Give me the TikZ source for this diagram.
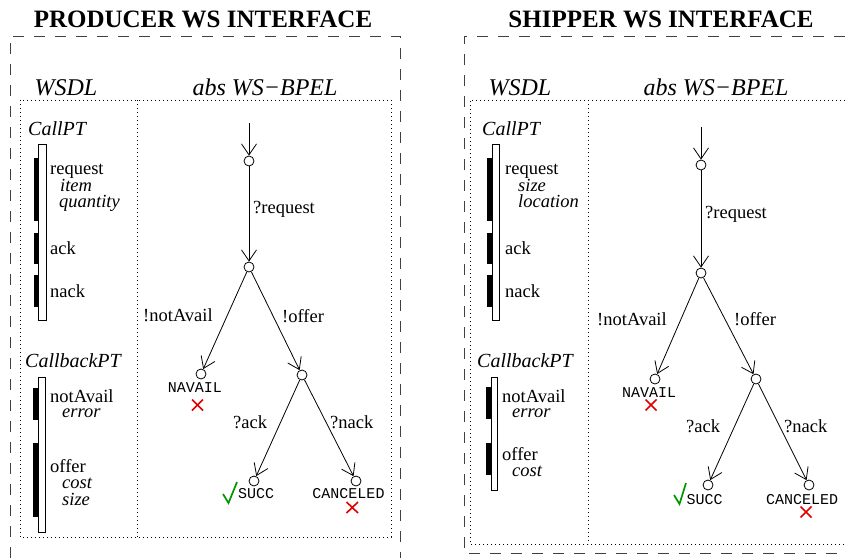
\documentclass[tikz,border=0pt]{standalone}
\usepackage{fontspec}
\setmainfont{Liberation Serif}
\setmonofont{Liberation Mono}
\usetikzlibrary{arrows.meta}
\definecolor{xred}{RGB}{225,0,0}
\definecolor{ckgreen}{RGB}{0,150,0}
\tikzset{
  outerbox/.style={draw=black!75, line width=1pt, dash pattern=on 11pt off 10pt},
  innerbox/.style={draw=black, line width=0.8pt, dash pattern=on 0.8pt off 3.2pt},
  title/.style={font=\fontsize{25}{30}\selectfont\bfseries, anchor=base, inner sep=0},
  head/.style={font=\fontsize{24}{28}\selectfont\itshape, anchor=base, inner sep=0},
  ptname/.style={font=\fontsize{20}{24}\selectfont\itshape, anchor=base west, inner sep=0},
  op/.style={font=\fontsize{18.5}{22}\selectfont, anchor=base west, inner sep=0},
  arg/.style={font=\fontsize{18.5}{22}\selectfont\itshape, anchor=base west, inner sep=0},
  lbl/.style={font=\fontsize{18.5}{22}\selectfont, anchor=base west, inner sep=0},
  fin/.style={font=\fontsize{15}{18}\selectfont\ttfamily, anchor=base, inner sep=0},
  st/.style={circle, draw, line width=0.8pt, minimum size=10pt, inner sep=0},
  tr/.style={line width=0.8pt, -{Straight Barb[length=11pt,width=15pt,line width=0.8pt]}},
  port/.style={draw, line width=0.8pt, fill=white},
  msgbar/.style={fill=black},
  xmark/.style={draw=xred, line width=1.6pt},
  ckmark/.style={draw=ckgreen, line width=1.7pt, line join=miter},
}
\begin{document}
\begin{tikzpicture}[x=1pt,y=-1pt]
\useasboundingbox (0,0) rectangle (845,557);
\clip (0,0) rectangle (845,557);

% ---------------- frames
\draw[outerbox] (10,600) -- (10,36) -- (400,36) -- (400,600);
\draw[outerbox] (900,553) -- (464,553) -- (464,36) -- (900,36);
\draw[innerbox] (20,100) rectangle (391,537);
\draw[innerbox] (137,100) -- (137,537);
\draw[innerbox] (900,544) -- (470,544) -- (470,100) -- (900,100);
\draw[innerbox] (588,100) -- (588,544);

% ---------------- titles
\node[title] (tp) at (203,27) {PRODUCER WS INTERFACE};
\node[title] (ts) at (661,27) {SHIPPER WS INTERFACE};
\node[head] (hpw) at (66,95) {WSDL};
\node[head] (hpb) at (265,95) {abs WS−BPEL};
\node[head] (hsw) at (520,95) {WSDL};
\node[head] (hsb) at (716,95) {abs WS−BPEL};

% ---------------- producer WSDL
\node[ptname] (pcall) at (28,135) {CallPT};
\draw[port] (38,144) rectangle (46,320);
\fill[msgbar] (33.5,158) rectangle (38,221);
\fill[msgbar] (33.5,233) rectangle (38,264);
\fill[msgbar] (33.5,275) rectangle (38,307);
\node[op] (preq) at (50,174) {request};
\node[arg] (pitem) at (60,191) {item};
\node[arg] (pqty) at (59,207) {quantity};
\node[op] (pack) at (50,254) {ack};
\node[op] (pnack) at (50,297) {nack};

\node[ptname] (pcb) at (25,367) {CallbackPT};
\draw[port] (38,377) rectangle (45.5,532);
\fill[msgbar] (32.5,388) rectangle (38,420);
\fill[msgbar] (32.5,443) rectangle (38,517);
\node[op] (pna) at (50,402) {notAvail};
\node[arg] (perr) at (62,417) {error};
\node[op] (poff) at (50,472) {offer};
\node[arg] (pcost) at (62,488) {cost};
\node[arg] (psize) at (62,505) {size};

% ---------------- shipper WSDL
\node[ptname] (scall) at (482,135) {CallPT};
\draw[port] (492,144) rectangle (499,320);
\fill[msgbar] (486.5,158) rectangle (492,221);
\fill[msgbar] (486.5,233) rectangle (492,264);
\fill[msgbar] (486.5,275) rectangle (492,307);
\node[op] (sreq) at (505,174) {request};
\node[arg] (ssize) at (518,191) {size};
\node[arg] (sloc) at (518,207) {location};
\node[op] (sack) at (505,254) {ack};
\node[op] (snack) at (505,297) {nack};

\node[ptname] (scb) at (477,367) {CallbackPT};
\draw[port] (491,377) rectangle (497.5,490);
\fill[msgbar] (485.5,387) rectangle (491,419);
\fill[msgbar] (485.5,443) rectangle (491,475);
\node[op] (sna) at (502,402) {notAvail};
\node[arg] (serr) at (512,417) {error};
\node[op] (soff) at (502,460) {offer};
\node[arg] (scost) at (512,476) {cost};

% ---------------- producer tree
\coordinate (p0) at (249,123);
\node[st] (p1) at (249,161) {};
\node[st] (p2) at (249,267) {};
\node[st] (p3) at (201,374) {};
\node[st] (p4) at (302,375) {};
\node[st] (p5) at (254,481) {};
\node[st] (p6) at (356,481) {};
\draw[tr] (p0) -- (p1);
\draw[tr] (p1) -- (p2);
\draw[tr] (p2) -- (p3);
\draw[tr] (p2) -- (p4);
\draw[tr] (p4) -- (p5);
\draw[tr] (p4) -- (p6);
\node[lbl] (pl1) at (253,213) {?request};
\node[lbl] (pl2) at (143,321) {!notAvail};
\node[lbl] (pl3) at (282,322) {!offer};
\node[lbl] (pl4) at (233,428) {?ack};
\node[lbl] (pl5) at (330,428) {?nack};
\node[fin] (pf1) at (195,392) {NAVAIL};
\node[fin] (pf2) at (256,498) {SUCC};
\node[fin] (pf3) at (348.5,498) {CANCELED};
\draw[xmark] (192,399.5) -- (203,410.5) (192,410.5) -- (203,399.5);
\draw[xmark] (346.5,502) -- (358,513) (346.5,513) -- (358,502);
\draw[ckmark] (223,494) -- (228.5,503) -- (237,482);

% ---------------- shipper tree
\coordinate (s0) at (701,127);
\node[st] (s1) at (701,165) {};
\node[st] (s2) at (701,273) {};
\node[st] (s3) at (655,379) {};
\node[st] (s4) at (756,379) {};
\node[st] (s5) at (708,485) {};
\node[st] (s6) at (809,485) {};
\draw[tr] (s0) -- (s1);
\draw[tr] (s1) -- (s2);
\draw[tr] (s2) -- (s3);
\draw[tr] (s2) -- (s4);
\draw[tr] (s4) -- (s5);
\draw[tr] (s4) -- (s6);
\node[lbl] (sl1) at (705,218) {?request};
\node[lbl] (sl2) at (597,325) {!notAvail};
\node[lbl] (sl3) at (734,325) {!offer};
\node[lbl] (sl4) at (686,432) {?ack};
\node[lbl] (sl5) at (784,432) {?nack};
\node[fin] (sf1) at (649,397) {NAVAIL};
\node[fin] (sf2) at (704.5,504) {SUCC};
\node[fin] (sf3) at (802,504) {CANCELED};
\draw[xmark] (645.5,399.5) -- (656.5,410.5) (645.5,410.5) -- (656.5,399.5);
\draw[xmark] (800.5,506.5) -- (811.5,517.5) (800.5,517.5) -- (811.5,506.5);
\draw[ckmark] (674,495) -- (679.5,504) -- (686,483);
\end{tikzpicture}
\end{document}
